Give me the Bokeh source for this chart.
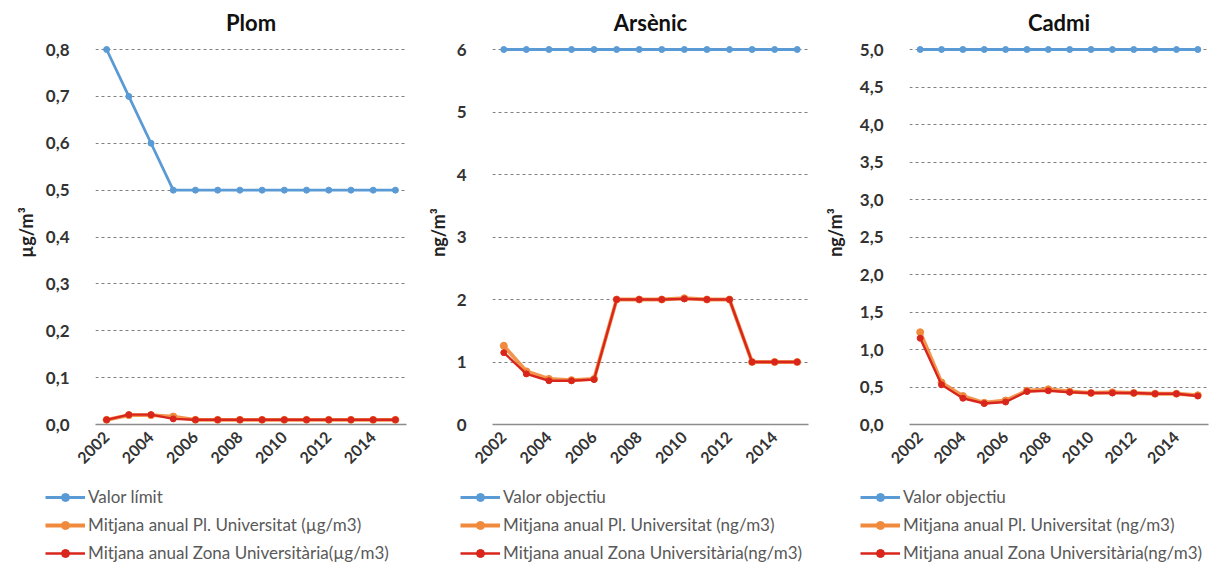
import math
from bokeh.plotting import figure
from bokeh.models import Range1d, FixedTicker, CustomJSTickFormatter, Legend, LegendItem
from bokeh.layouts import row, column
from bokeh.embed import file_html
from bokeh.resources import INLINE

years = list(range(2002, 2016))
year_ticks = [2002, 2004, 2006, 2008, 2010, 2012, 2014]

# Plom (µg/m3)
plom_limit = [0.8, 0.7, 0.6, 0.5, 0.5, 0.5, 0.5, 0.5, 0.5, 0.5, 0.5, 0.5, 0.5, 0.5]
plom_pl_univ = [0.01, 0.02, 0.02, 0.017, 0.01, 0.01, 0.01, 0.01, 0.01, 0.01, 0.01, 0.01, 0.01, 0.01]
plom_zona_univ = [0.01, 0.021, 0.021, 0.012, 0.01, 0.01, 0.01, 0.01, 0.01, 0.01, 0.01, 0.01, 0.01, 0.01]
plom_ticks = [0.0, 0.1, 0.2, 0.3, 0.4, 0.5, 0.6, 0.7, 0.8]

# Arsènic (ng/m3)
ars_obj = [6, 6, 6, 6, 6, 6, 6, 6, 6, 6, 6, 6, 6, 6]
ars_pl_univ = [1.26, 0.85, 0.73, 0.71, 0.73, 2.0, 2.0, 2.0, 2.02, 2.0, 2.0, 1.0, 1.0, 1.0]
ars_zona_univ = [1.15, 0.81, 0.70, 0.70, 0.72, 2.0, 2.0, 2.0, 2.01, 2.0, 2.0, 1.0, 1.0, 1.0]
ars_ticks = [0, 1, 2, 3, 4, 5, 6]

# Cadmi (ng/m3)
cad_obj = [5.0] * 14
cad_pl_univ = [1.23, 0.56, 0.38, 0.29, 0.32, 0.45, 0.47, 0.44, 0.42, 0.43, 0.42, 0.41, 0.41, 0.39]
cad_zona_univ = [1.15, 0.53, 0.35, 0.28, 0.30, 0.44, 0.45, 0.43, 0.42, 0.42, 0.42, 0.41, 0.41, 0.38]
cad_ticks = [0.0, 0.5, 1.0, 1.5, 2.0, 2.5, 3.0, 3.5, 4.0, 4.5, 5.0]

BLUE = "#5B9BD5"
ORANGE = "#F08A3C"
RED = "#D9261C"
FONT = "Lato"


def make_panel(title, ylabel, ymax_tick, ticks, decimals, s_ref, s_a, s_b,
               width, mb_left, mb_right, lab_standoff, title_offset):
    top = ymax_tick * 384.0 / 375.0
    p = figure(width=width, height=480, output_backend="svg", toolbar_location=None,
               x_range=Range1d(2001.5, 2015.5), y_range=Range1d(0, top),
               min_border_left=mb_left, min_border_right=mb_right,
               min_border_top=40, min_border_bottom=56, title=title)
    p.outline_line_color = None
    p.background_fill_color = "white"
    p.title.align = "center"
    p.title.offset = title_offset
    p.title.text_font = FONT
    p.title.text_font_size = "22px"
    p.title.text_font_style = "bold"
    p.title.text_color = "#111111"

    p.xgrid.grid_line_color = None
    p.ygrid.ticker = FixedTicker(ticks=ticks)
    p.ygrid.grid_line_color = "#7F7F7F"
    p.ygrid.grid_line_dash = "3 3"
    p.ygrid.grid_line_width = 1

    p.yaxis.ticker = FixedTicker(ticks=ticks)
    p.yaxis.formatter = CustomJSTickFormatter(
        code="return tick.toFixed(%d).replace('.', ',');" % decimals)
    p.yaxis.axis_line_color = None
    p.yaxis.major_tick_line_color = None
    p.yaxis.minor_tick_line_color = None
    p.yaxis.major_label_standoff = 20
    p.yaxis.major_label_text_font = FONT
    p.yaxis.major_label_text_font_size = "17px"
    p.yaxis.major_label_text_font_style = "bold"
    p.yaxis.major_label_text_color = "#333333"
    p.yaxis.axis_label = ylabel
    p.yaxis.axis_label_text_font = FONT
    p.yaxis.axis_label_text_font_size = "18px"
    p.yaxis.axis_label_text_font_style = "bold"
    p.yaxis.axis_label_text_color = "#222222"
    p.yaxis.axis_label_standoff = lab_standoff

    p.xaxis.ticker = FixedTicker(ticks=year_ticks)
    p.xaxis.major_label_orientation = math.pi / 4
    p.xaxis.major_tick_line_color = None
    p.xaxis.minor_tick_line_color = None
    p.xaxis.axis_line_color = "#8C8C8C"
    p.xaxis.axis_line_width = 1.5
    p.xaxis.major_label_standoff = 4
    p.xaxis.major_label_text_font = FONT
    p.xaxis.major_label_text_font_size = "16px"
    p.xaxis.major_label_text_font_style = "bold"
    p.xaxis.major_label_text_color = "#333333"

    p.line(years, s_ref, line_color=BLUE, line_width=2.8)
    p.scatter(years, s_ref, size=6, fill_color=BLUE, line_color=BLUE)
    p.line(years, s_a, line_color=ORANGE, line_width=3.8, line_alpha=0.9)
    p.scatter(years, s_a, size=7, fill_color=ORANGE, line_color=ORANGE)
    p.line(years, s_b, line_color=RED, line_width=2.4)
    p.scatter(years, s_b, size=6, fill_color=RED, line_color=RED)
    return p


def make_legend(labels, width, leg_x):
    q = figure(width=width, height=85, output_backend="svg", toolbar_location=None,
               x_range=Range1d(0, 1), y_range=Range1d(0, 1),
               x_axis_type=None, y_axis_type=None,
               min_border=0, min_border_left=0, min_border_right=0,
               min_border_top=0, min_border_bottom=0)
    q.outline_line_color = None
    q.xgrid.visible = False
    q.ygrid.visible = False
    specs = [(BLUE, 2.8, 6), (ORANGE, 3.8, 7), (RED, 2.4, 6)]
    items = []
    for lab, (c, w, s) in zip(labels, specs):
        # legend-only renderers placed outside the visible range
        lr = q.line([-5, -4], [-5, -5], line_color=c, line_width=w)
        sr = q.scatter([-5], [-5], size=s, fill_color=c, line_color=c)
        items.append(LegendItem(label=lab, renderers=[lr, sr]))
    leg = Legend(items=items, location=(leg_x, 2), orientation="vertical",
                 padding=0, margin=0, spacing=7, label_height=20, glyph_height=20,
                 glyph_width=40, label_standoff=3,
                 label_text_font=FONT, label_text_font_size="17px",
                 label_text_color="#595959",
                 border_line_color=None, background_fill_alpha=0)
    q.add_layout(leg)
    return q


p1 = make_panel("Plom", "µg/m³", 0.8, plom_ticks, 1,
                plom_limit, plom_pl_univ, plom_zona_univ,
                410, 95, 4, 6, -10)
p2 = make_panel("Arsènic", "ng/m³", 6, ars_ticks, 0,
                ars_obj, ars_pl_univ, ars_zona_univ,
                410, 82, 12, 5, 15)
p3 = make_panel("Cadmi", "ng/m³", 5.0, cad_ticks, 1,
                cad_obj, cad_pl_univ, cad_zona_univ,
                409, 87, 21, 11, 0)

q1 = make_legend(["Valor límit", "Mitjana anual Pl. Universitat (µg/m3)",
                  "Mitjana anual Zona Universitària(µg/m3)"], 410, 45)
q2 = make_legend(["Valor objectiu", "Mitjana anual Pl. Universitat (ng/m3)",
                  "Mitjana anual Zona Universitària(ng/m3)"], 410, 50)
q3 = make_legend(["Valor objectiu", "Mitjana anual Pl. Universitat (ng/m3)",
                  "Mitjana anual Zona Universitària(ng/m3)"], 409, 40)

layout = column(row(p1, p2, p3, spacing=0), row(q1, q2, q3, spacing=0), spacing=0)
open("out.html", "w").write(file_html(layout, INLINE))
